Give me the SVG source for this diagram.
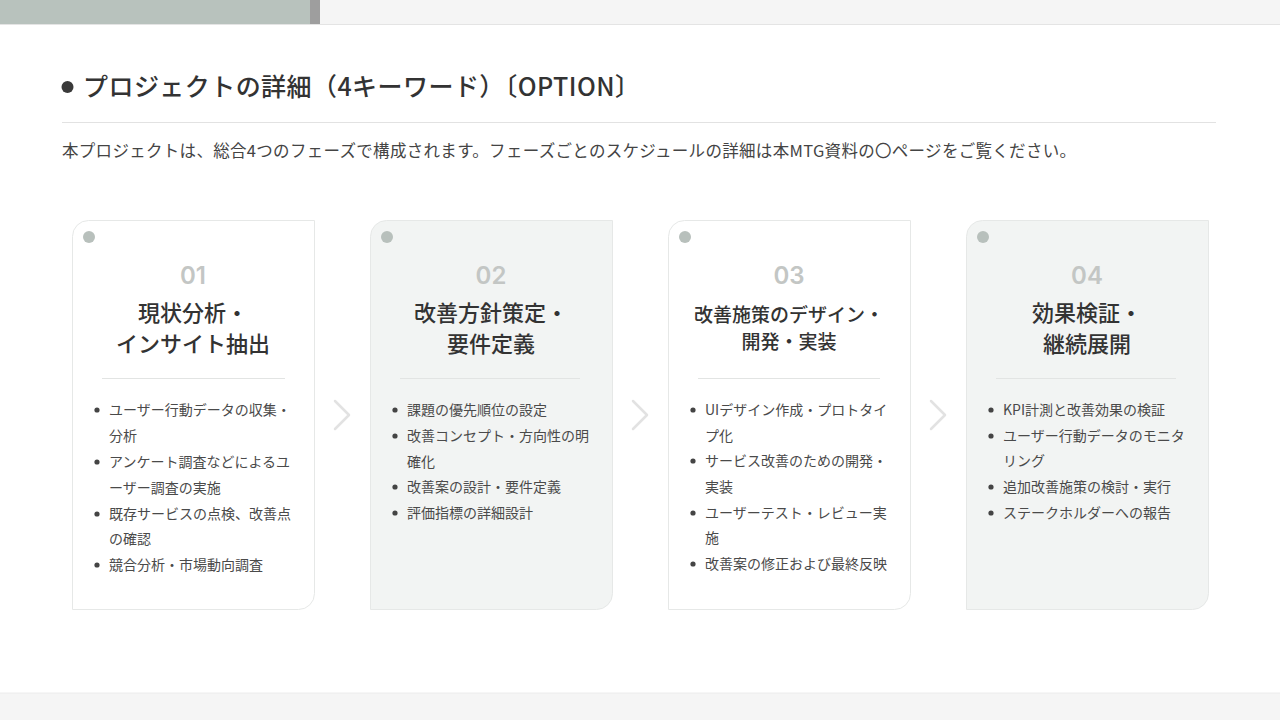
<svg xmlns="http://www.w3.org/2000/svg" width="1280" height="720" viewBox="0 0 1280 720">
<defs>
<style>
.jp{font-family:"Noto Sans CJK JP","Noto Sans",sans-serif;}
.card{stroke:#e6e8e7;stroke-width:1;}
.w{fill:#ffffff;}
.g{fill:#f2f4f3;}
.dot{fill:#b8c0bc;}
.num{font-family:Inter,"Noto Sans",sans-serif;font-size:24px;font-weight:600;fill:#c3c6c4;text-anchor:middle;}
.ttl{font-size:22px;font-weight:500;fill:#333;text-anchor:middle;}
.ttl2{font-size:19px;font-weight:500;fill:#333;text-anchor:middle;}
.div{stroke:#e2e4e3;stroke-width:1;}
.li{font-size:14px;fill:#4a4a4a;}
.b{fill:#444;}
.chev{fill:none;stroke:#e2e2e2;stroke-width:2.5;stroke-linecap:round;stroke-linejoin:round;}
</style>
</defs>
<rect width="1280" height="720" fill="#ffffff"/>
<!-- top bar -->
<rect x="0" y="0" width="1280" height="24" fill="#f5f5f5"/>
<rect x="0" y="0" width="310" height="24" fill="#b8c2bd"/>
<rect x="310" y="0" width="10" height="24" fill="#9e9e9e"/>
<line x1="0" y1="24.5" x2="1280" y2="24.5" stroke="#e4e4e4"/>
<!-- bottom bar -->
<rect x="0" y="693" width="1280" height="27" fill="#f5f5f5"/>
<line x1="0" y1="693" x2="1280" y2="693" stroke="#ececec"/>
<!-- heading -->
<g id="heading">
<circle cx="67.5" cy="87" r="6" fill="#3a3a3a"/>
<text class="jp" x="83" y="96" font-size="25" font-weight="500" fill="#333" textLength="557" lengthAdjust="spacing">プロジェクトの詳細（4キーワード）〔OPTION〕</text>
<line x1="62" y1="122.5" x2="1216" y2="122.5" stroke="#e2e2e2"/>
<text class="jp" x="62" y="157" font-size="16.5" fill="#444" textLength="1014" lengthAdjust="spacing">本プロジェクトは、総合4つのフェーズで構成されます。フェーズごとのスケジュールの詳細は本MTG資料の〇ページをご覧ください。</text>
</g>
<!-- cards -->
<g id="card1">
<path class="card w" d="M88.5,220.5 H314.5 V593.5 A16,16 0 0 1 298.5,609.5 H72.5 V236.5 A16,16 0 0 1 88.5,220.5 Z"/>
<circle class="dot" cx="89" cy="237" r="6"/>
<text class="num" x="193" y="284">01</text>
<text class="jp ttl" x="193" y="321">現状分析・</text>
<text class="jp ttl" x="193" y="352">インサイト抽出</text>
<line class="div" x1="102" y1="378.5" x2="285" y2="378.5"/>
<g class="jp li">
<circle class="b" cx="97" cy="410" r="2.6"/><text x="109" y="415">ユーザー行動データの収集・</text>
<text x="109" y="441">分析</text>
<circle class="b" cx="97" cy="462" r="2.6"/><text x="109" y="467">アンケート調査などによるユ</text>
<text x="109" y="493">ーザー調査の実施</text>
<circle class="b" cx="97" cy="514" r="2.6"/><text x="109" y="519">既存サービスの点検、改善点</text>
<text x="109" y="544">の確認</text>
<circle class="b" cx="97" cy="565" r="2.6"/><text x="109" y="570">競合分析・市場動向調査</text>
</g>
</g>
<g id="card2">
<path class="card g" d="M386.5,220.5 H612.5 V593.5 A16,16 0 0 1 596.5,609.5 H370.5 V236.5 A16,16 0 0 1 386.5,220.5 Z"/>
<circle class="dot" cx="387" cy="237" r="6"/>
<text class="num" x="491" y="284">02</text>
<text class="jp ttl" x="491" y="321">改善方針策定・</text>
<text class="jp ttl" x="491" y="352">要件定義</text>
<line class="div" x1="400" y1="378.5" x2="580" y2="378.5"/>
<g class="jp li">
<circle class="b" cx="395" cy="410" r="2.6"/><text x="407" y="415">課題の優先順位の設定</text>
<circle class="b" cx="395" cy="436" r="2.6"/><text x="407" y="441">改善コンセプト・方向性の明</text>
<text x="407" y="467">確化</text>
<circle class="b" cx="395" cy="487" r="2.6"/><text x="407" y="492">改善案の設計・要件定義</text>
<circle class="b" cx="395" cy="513" r="2.6"/><text x="407" y="518">評価指標の詳細設計</text>
</g>
</g>
<g id="card3">
<path class="card w" d="M684.5,220.5 H910.5 V593.5 A16,16 0 0 1 894.5,609.5 H668.5 V236.5 A16,16 0 0 1 684.5,220.5 Z"/>
<circle class="dot" cx="685" cy="237" r="6"/>
<text class="num" x="789" y="284">03</text>
<text class="jp ttl2" x="789" y="322">改善施策のデザイン・</text>
<text class="jp ttl2" x="789" y="349">開発・実装</text>
<line class="div" x1="698" y1="378.5" x2="880" y2="378.5"/>
<g class="jp li">
<circle class="b" cx="693" cy="410" r="2.6"/><text x="705" y="415">UIデザイン作成・プロトタイ</text>
<text x="705" y="441">プ化</text>
<circle class="b" cx="693" cy="461" r="2.6"/><text x="705" y="466">サービス改善のための開発・</text>
<text x="705" y="492">実装</text>
<circle class="b" cx="693" cy="513" r="2.6"/><text x="705" y="518">ユーザーテスト・レビュー実</text>
<text x="705" y="543">施</text>
<circle class="b" cx="693" cy="564" r="2.6"/><text x="705" y="569">改善案の修正および最終反映</text>
</g>
</g>
<g id="card4">
<path class="card g" d="M982.5,220.5 H1208.5 V593.5 A16,16 0 0 1 1192.5,609.5 H966.5 V236.5 A16,16 0 0 1 982.5,220.5 Z"/>
<circle class="dot" cx="983" cy="237" r="6"/>
<text class="num" x="1087" y="284">04</text>
<text class="jp ttl" x="1087" y="321">効果検証・</text>
<text class="jp ttl" x="1087" y="352">継続展開</text>
<line class="div" x1="996" y1="378.5" x2="1176" y2="378.5"/>
<g class="jp li">
<circle class="b" cx="991" cy="410" r="2.6"/><text x="1003" y="415">KPI計測と改善効果の検証</text>
<circle class="b" cx="991" cy="436" r="2.6"/><text x="1003" y="441">ユーザー行動データのモニタ</text>
<text x="1003" y="466">リング</text>
<circle class="b" cx="991" cy="487" r="2.6"/><text x="1003" y="492">追加改善施策の検討・実行</text>
<circle class="b" cx="991" cy="513" r="2.6"/><text x="1003" y="518">ステークホルダーへの報告</text>
</g>
</g>
<g id="connectors">
<polyline class="chev" points="335,401 349,415 335,429"/>
<polyline class="chev" points="633,401 647,415 633,429"/>
<polyline class="chev" points="931,401 945,415 931,429"/>
</g>
</svg>
